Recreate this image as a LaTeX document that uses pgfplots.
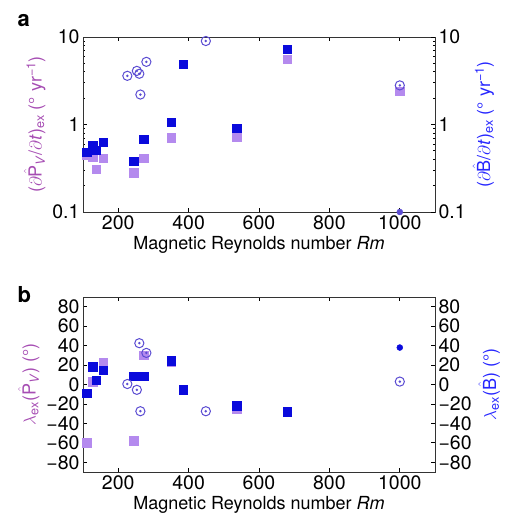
\documentclass[border=0pt]{standalone}
\usepackage{fontspec}
\setmainfont{TeX Gyre Heros}
\usepackage{pgfplots}
\pgfplotsset{compat=1.18}

\definecolor{lightpur}{HTML}{B48AEE}
\definecolor{darkblue}{HTML}{0A0ADC}
\definecolor{circpur}{HTML}{5B4CD2}
\definecolor{labpur}{HTML}{A64DB3}
\definecolor{labblue}{HTML}{2626FF}

% open circle with a dot in the middle
\pgfdeclareplotmark{circdot}{%
  \pgfpathcircle{\pgfpointorigin}{\pgfplotmarksize}\pgfusepathqstroke
  \pgfpathcircle{\pgfpointorigin}{0.3\pgfplotmarksize}\pgfusepathqfill}

\pgfplotsset{
  panel/.style={
    scale only axis, width=352pt, height=175pt,
    xmin=100, xmax=1100,
    xtick={200,400,600,800,1000},
    xticklabels={200,400,600,800,1000},
    tick align=inside,
    major tick length=4pt, minor tick length=2pt,
    axis line style={line width=0.9pt, black!80},
    every tick/.style={black, line width=0.7pt},
    ticklabel style={font=\fontsize{19.5}{21}\selectfont},
    label style={font=\fontsize{18}{20}\selectfont},
    /pgf/number format/assume math mode=true,
  },
  sqB/.style={only marks, mark=square*, mark size=4.2pt, color=darkblue},
  sqP/.style={only marks, mark=square*, mark size=4.2pt, color=lightpur},
  cd/.style={only marks, mark=circdot, mark size=4.6pt, color=circpur, line width=1pt},
}
\newcommand{\sub}[1]{\textsubscript{#1}}
\newcommand{\hatt}[1]{$\hat{\mbox{#1}}$}

\begin{document}
\begin{tikzpicture}[x=1pt,y=1pt]
\useasboundingbox (0,0) rectangle (508,-522);
\node[anchor=base west, font=\fontsize{22}{24}\selectfont\bfseries] at (14,-27) {a};
\node[anchor=base west, font=\fontsize{22}{24}\selectfont\bfseries] at (14,-302) {b};

% ---------- panel a ----------
\begin{axis}[panel, at={(83pt,-37pt)}, anchor=north west,
    ymode=log, ymin=0.1, ymax=10,
    ytick={0.1,1,10}, yticklabels={0.1,1,10},
    ytick pos=left, xtick pos=both,
    xlabel={Magnetic Reynolds number \textit{Rm}},
    ylabel={\textcolor{labpur}{($\partial$\hatt{P}\sub{\textit{V}}/$\partial$\textit{t})\sub{ex} (° yr\textsuperscript{−1})}},
  ]
\addplot[sqP] coordinates {
  (111,0.45) (128,0.43) (137,0.31) (157,0.41) (244,0.28) (272,0.41)
  (351,0.71) (537,0.72) (680,5.6) (1000,2.4)
};
\addplot[sqB] coordinates {
  (111,0.48) (128,0.58) (137,0.51) (157,0.63) (244,0.38) (272,0.68)
  (351,1.07) (385,4.9) (537,0.91) (680,7.3)
};
\addplot[cd] coordinates {
  (226,3.6) (253,4.1) (260,3.8) (263,2.2) (280,5.2) (449,9.0) (1000,2.8)
};
\addplot[only marks, mark=*, mark size=3pt, color=circpur] coordinates {(1000,0.1)};
\end{axis}
\begin{axis}[panel, at={(83pt,-37pt)}, anchor=north west,
    ymode=log, ymin=0.1, ymax=10,
    ytick={0.1,1,10}, yticklabels={0.1,1,10},
    axis y line*=right, axis x line=none,
    ylabel={\textcolor{labblue}{($\partial$\hatt{B}/$\partial$\textit{t})\sub{ex} (° yr\textsuperscript{−1})}},
  ]
\end{axis}

% ---------- panel b ----------
\begin{axis}[panel, at={(83pt,-297pt)}, anchor=north west,
    ymin=-90, ymax=90,
    ytick={-80,-60,-40,-20,0,20,40,60,80},
    yticklabels={−80,−60,−40,−20,0,20,40,60,80},
    ytick pos=left, xtick pos=both,
    xlabel={Magnetic Reynolds number \textit{Rm}},
    ylabel={\textcolor{labpur}{$\lambda$\sub{ex}(\hatt{P}\sub{\textit{V}}) (°)}},
  ]
\addplot[sqP] coordinates {
  (111,-60) (128,3) (157,23) (244,-58) (272,30) (351,23) (537,-25) (680,-28)
};
\addplot[sqB] coordinates {
  (111,-9) (128,18.5) (137,4.4) (157,15) (244,8.5) (272,8.5)
  (351,24.5) (385,-5.5) (537,-22) (680,-28)
};
\addplot[cd] coordinates {
  (226,0.5) (253,-5.5) (260,42.5) (263,-27.5) (280,32.5) (449,-27.5) (1000,3)
};
\addplot[only marks, mark=*, mark size=3pt, color=darkblue] coordinates {(1000,38)};
\end{axis}
\begin{axis}[panel, at={(83pt,-297pt)}, anchor=north west,
    ymin=-90, ymax=90,
    ytick={-80,-60,-40,-20,0,20,40,60,80},
    yticklabels={−80,−60,−40,−20,0,20,40,60,80},
    axis y line*=right, axis x line=none,
    ylabel={\textcolor{labblue}{$\lambda$\sub{ex}(\hatt{B}) (°)}},
  ]
\end{axis}
\end{tikzpicture}
\end{document}
